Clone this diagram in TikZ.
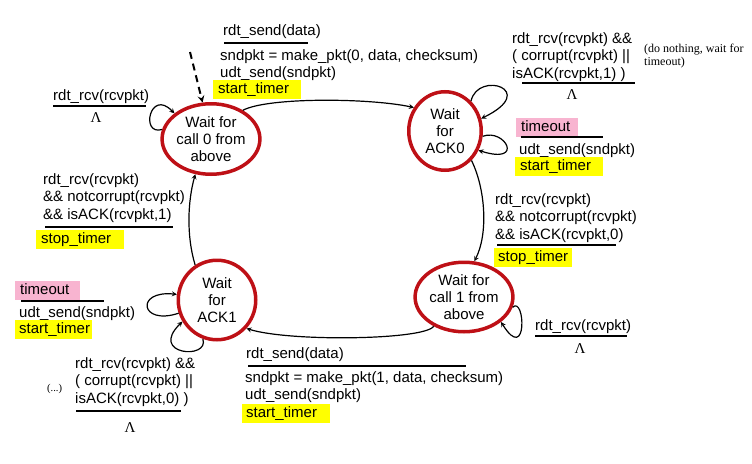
\documentclass[tikz,border=0pt]{standalone}
\usepackage{fontspec}
\setmainfont{Liberation Sans}
\newfontfamily\notefont{Liberation Serif}
\usetikzlibrary{positioning,shapes.geometric,arrows}

\definecolor{statered}{RGB}{190,16,22}
\definecolor{hlyellow}{RGB}{255,255,0}
\definecolor{hlpink}{RGB}{248,180,208}

\begin{document}
\begin{tikzpicture}[x=1pt, y=-1pt, >=stealth,
    font=\fontsize{15}{17.5}\selectfont,
    state/.style={ellipse, draw=statered, line width=3.5pt, align=center,
                  inner sep=0pt, font=\fontsize{15}{17}\selectfont},
    lbl/.style={anchor=north west, yshift=12.25pt, align=left, inner sep=0pt},
    bar/.style={line width=2pt},
    hlbox/.style={anchor=north west, align=left, inner xsep=5pt, inner ysep=2.5pt,
                  text height=11pt, text depth=3pt},
    trans/.style={->, line width=1.2pt},
    lam/.style={anchor=base, inner sep=0pt, font=\notefont\fontsize{15}{15}\selectfont},
    note/.style={anchor=north west, yshift=9pt, align=left, inner sep=0pt,
                 font=\notefont\fontsize{12}{13}\selectfont}]

  \useasboundingbox (0,0) rectangle (752,463);

  %--- States
  \node[state, minimum width=74.5pt, minimum height=70.5pt] (s0) at (211,139)
       {Wait for\\call 0 from\\above};
  \node[state, minimum width=72.5pt, minimum height=78.5pt] (s1) at (445,131)
       {Wait\\for\\ACK0};
  \node[state, minimum width=73.5pt, minimum height=69.5pt] (s2) at (464,297)
       {Wait for\\call 1 from\\above};
  \node[state, minimum width=77.5pt, minimum height=79.5pt] (s3) at (217,300)
       {Wait\\for\\ACK1};

  %--- Initial arrow
  \coordinate (init) at (190,52);
  \draw[->, line width=2pt, dash pattern=on 7pt off 5pt] (init) -- (s0.103);

  %--- Transitions around the cycle
  \draw[trans] (s0.42) .. controls (268,97) and (370,98) .. (s1.143);
  \draw[trans] (s1.-48) .. controls (486,190) and (488,235) .. (s2.74);
  \draw[trans] (s2.224) .. controls (425,340) and (290,342) .. (s3.-44);
  \draw[trans] (s3.122) .. controls (186,235) and (188,200) .. (s0.246);

  %--- Self loops
  \draw[trans] (s0.169) .. controls (140,136) and (150,88) .. (s0.145);
  \draw[trans] (s1.49) .. controls (478,70) and (540,90) .. (s1.19);
  \draw[trans] (s1.-8) .. controls (505,128) and (525,165) .. (s1.-30);
  \draw[trans] (s2.-12) .. controls (525,295) and (528,365) .. (s2.-34);
  \draw[trans] (s3.199) .. controls (140,326) and (135,290) .. (s3.172);
  \draw[trans] (s3.250) .. controls (210,360) and (148,355) .. (s3.212);

  %--- rdt_send(data), call 0
  \node[lbl] (snd0ev) at (223,35) {\strut rdt\_send(data)};
  \draw[bar] (224,43) -- (308,43);
  \node[lbl] (snd0act) at (220,60) {\strut sndpkt = make\_pkt(0, data, checksum)\\udt\_send(sndpkt)};
  \node[hlbox, fill=hlyellow, text width=78pt] (snd0tm) at (213,80) {start\_timer};

  %--- rdt_rcv in call 0
  \node[lbl] (rcv0ev) at (53,100) {\strut rdt\_rcv(rcvpkt)};
  \draw[bar] (53,106) -- (146,106);
  \node[lam] (rcv0lam) at (96,122) {Λ};

  %--- ACK1 received
  \node[lbl] (ack1ev) at (43,184) {\strut rdt\_rcv(rcvpkt)\\\&\& notcorrupt(rcvpkt)\\\&\& isACK(rcvpkt,1)};
  \draw[bar] (45,227) -- (173,227);
  \node[hlbox, fill=hlyellow, text width=78pt, minimum height=18pt] (ack1tm) at (36,230) {stop\_timer};

  %--- corrupt or wrong ACK in ACK0
  \node[lbl] (bad0ev) at (512,43) {\strut rdt\_rcv(rcvpkt) \&\&\\( corrupt(rcvpkt) ||\\isACK(rcvpkt,1) )};
  \draw[bar] (522,83) -- (635,83);
  \node[lam] (bad0lam) at (572,99) {Λ};
  \node[note] (bad0note) at (644,53) {(do nothing, wait for\\timeout)};

  %--- timeout in ACK0
  \node[hlbox, fill=hlpink, text width=52pt] (to0ev) at (516,118) {timeout};
  \draw[bar] (521,137) -- (603,137);
  \node[lbl] (to0act) at (519,154) {\strut udt\_send(sndpkt)};
  \node[hlbox, fill=hlyellow, text width=78pt] (to0tm) at (515,157) {start\_timer};

  %--- ACK0 received
  \node[lbl] (ack0ev) at (495,204) {\strut rdt\_rcv(rcvpkt)\\\&\& notcorrupt(rcvpkt)\\\&\& isACK(rcvpkt,0)};
  \draw[bar] (497,245) -- (616,245);
  \node[hlbox, fill=hlyellow, text width=70pt, inner xsep=4pt] (ack0tm) at (494,248) {stop\_timer};

  %--- rdt_rcv in call 1
  \node[lbl] (rcv1ev) at (535,330) {\strut rdt\_rcv(rcvpkt)};
  \draw[bar] (535,336) -- (627,336);
  \node[lam] (rcv1lam) at (580,353) {Λ};

  %--- timeout in ACK1
  \node[hlbox, fill=hlpink, text width=55pt] (to1ev) at (15,281) {timeout};
  \draw[bar] (21,301) -- (104,301);
  \node[lbl] (to1act) at (19,317) {\strut udt\_send(sndpkt)};
  \node[hlbox, fill=hlyellow, text width=69pt, inner xsep=4pt] (to1tm) at (15,320) {start\_timer};

  %--- corrupt or wrong ACK in ACK1
  \node[lbl] (bad1ev) at (75,368) {\strut rdt\_rcv(rcvpkt) \&\&\\( corrupt(rcvpkt) ||\\isACK(rcvpkt,0) )};
  \draw[bar] (76,411) -- (181,411);
  \node[lam] (bad1lam) at (130,432) {Λ};
  \node[note, yshift=-1pt, font=\notefont\fontsize{10.5}{12}\selectfont] (bad1note) at (47,392) {(...)};

  %--- rdt_send(data), call 1
  \node[lbl] (snd1ev) at (246,358) {\strut rdt\_send(data)};
  \draw[bar] (248,366) -- (466,366);
  \node[lbl] (snd1act) at (245,382) {\strut sndpkt = make\_pkt(1, data, checksum)\\udt\_send(sndpkt)};
  \node[hlbox, fill=hlyellow, text width=80pt, inner xsep=4pt] (snd1tm) at (242,404) {start\_timer};

\end{tikzpicture}
\end{document}
